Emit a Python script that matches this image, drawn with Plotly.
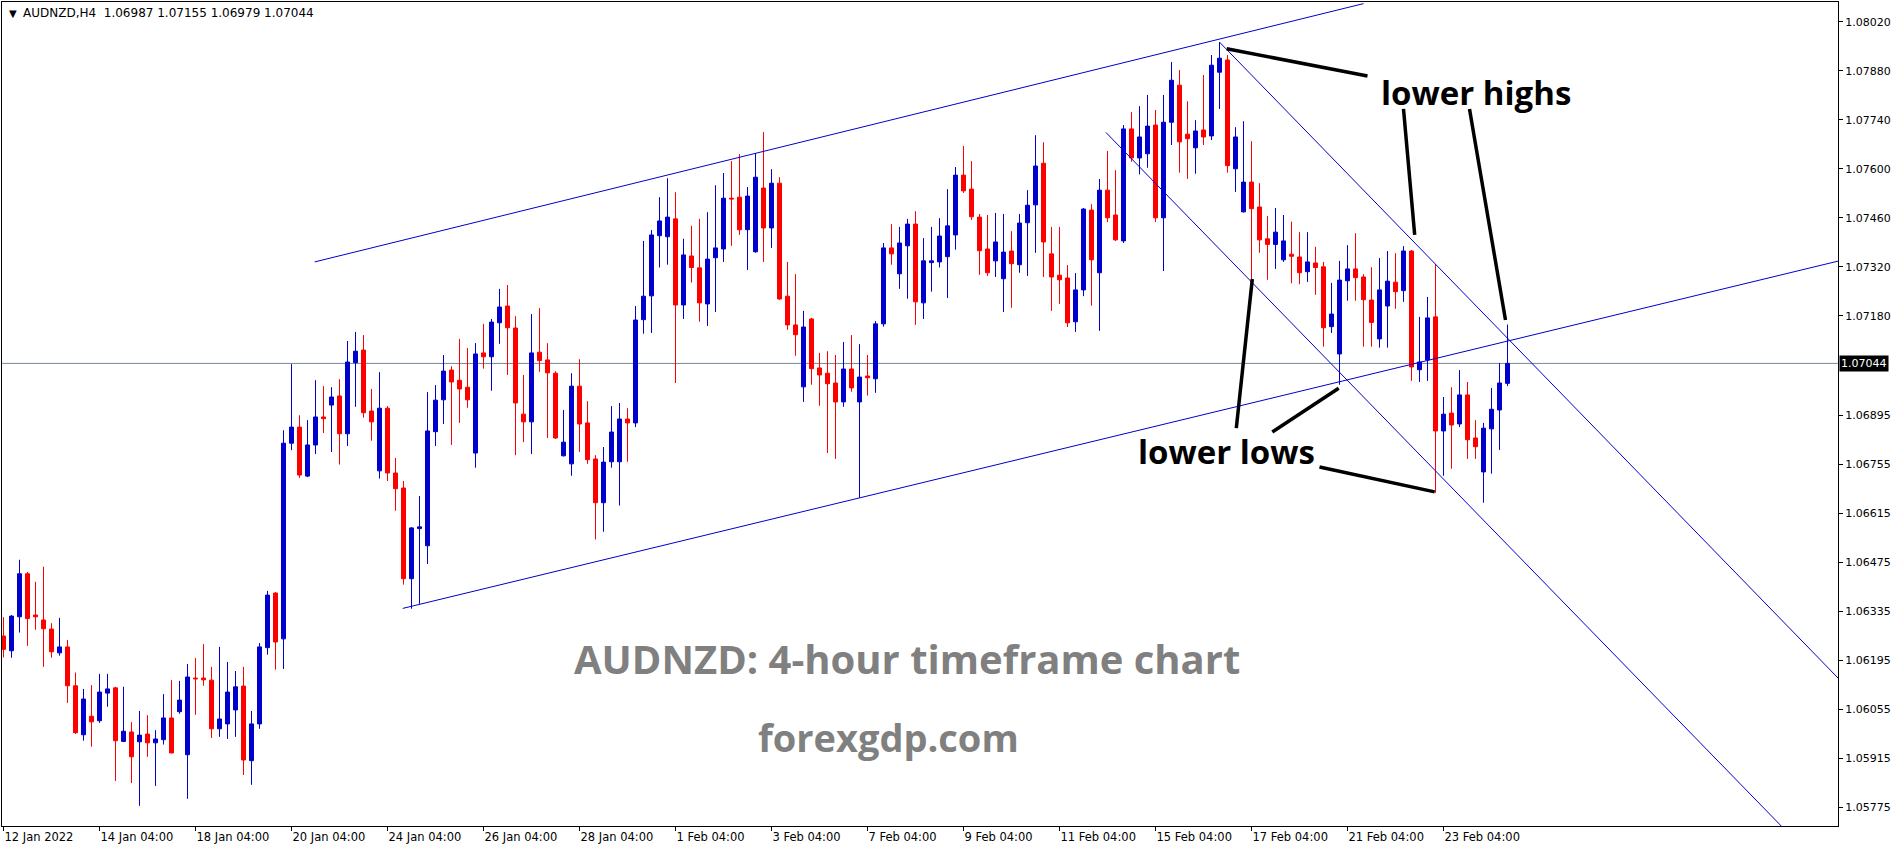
import plotly.graph_objects as go

# ---------------- data (AUDNZD H4, bar index = position) ----------------
opens = [1.06265,1.06223,1.06320,1.06443,1.06325,1.06311,1.06285,1.06217,1.06234,1.06123,
1.05983,1.06036,1.06023,1.06102,1.06117,1.05964,1.05991,1.05963,1.05985,1.05960,
1.05969,1.06031,1.06049,1.05926,1.06145,1.06145,1.06139,1.06000,1.06014,1.06054,
1.06122,1.05909,1.06014,1.06232,1.06388,1.06257,1.06816,1.06862,1.06722,1.06811,
1.06891,1.06925,1.06951,1.06843,1.07046,1.07082,1.06908,1.06737,1.06916,1.06731,
1.06688,1.06429,1.06572,1.06523,1.06849,1.06940,1.07025,1.06996,1.06976,1.06788,
1.07074,1.07063,1.07160,1.07208,1.07145,1.06899,1.06877,1.07076,1.07054,1.07016,
1.06780,1.06757,1.06979,1.06874,1.06771,1.06646,1.06763,1.06763,1.06885,1.06874,
1.07169,1.07237,1.07409,1.07406,1.07457,1.07211,1.07351,1.07317,1.07214,1.07346,
1.07371,1.07516,1.07519,1.07426,1.07363,1.07545,1.07431,1.07559,1.07236,1.07154,
1.06977,1.07171,1.07031,1.07016,1.06988,1.06934,1.07028,1.06934,1.07008,1.07000,
1.07157,1.07374,1.07300,1.07380,1.07442,1.07217,1.07332,1.07334,1.07349,1.07411,
1.07582,1.07542,1.07462,1.07371,1.07337,1.07286,1.07365,1.07326,1.07446,1.07497,
1.07616,1.07357,1.07296,1.07288,1.07163,1.07254,1.07482,1.07303,1.07539,1.07468,
1.07394,1.07714,1.07631,1.07643,1.07725,1.07460,1.07733,1.07839,1.07699,1.07660,
1.07711,1.07694,1.07876,1.07911,1.07600,1.07477,1.07562,1.07491,1.07400,1.07384,
1.07340,1.07356,1.07348,1.07306,1.07331,1.07320,1.07149,1.07071,1.07280,1.07314,
1.07291,1.07225,1.07114,1.07208,1.07276,1.07252,1.07365,1.07026,1.07054,1.07177,
1.06851,1.06902,1.06871,1.06954,1.06831,1.06734,1.06857,1.06911,1.06987]

highs = [1.06319,1.06325,1.06483,1.06448,1.06420,1.06463,1.06302,1.06317,1.06254,1.06161,
1.06114,1.06125,1.06157,1.06157,1.06120,1.06120,1.06019,1.06051,1.06039,1.05996,
1.06099,1.06139,1.06137,1.06185,1.06202,1.06242,1.06177,1.06234,1.06191,1.06165,
1.06177,1.06051,1.06245,1.06394,1.06390,1.06853,1.07042,1.06896,1.06882,1.06996,
1.06979,1.06976,1.06999,1.07108,1.07134,1.07125,1.06971,1.07019,1.06922,1.06774,
1.06708,1.06576,1.06665,1.06962,1.06982,1.07068,1.07036,1.07114,1.07088,1.07102,
1.07157,1.07171,1.07257,1.07268,1.07179,1.07011,1.07185,1.07202,1.07102,1.07022,
1.06911,1.07016,1.07056,1.06936,1.06782,1.06805,1.06922,1.06931,1.06916,1.07208,
1.07394,1.07425,1.07519,1.07573,1.07533,1.07400,1.07437,1.07457,1.07476,1.07553,
1.07588,1.07622,1.07642,1.07548,1.07645,1.07705,1.07599,1.07576,1.07334,1.07299,
1.07194,1.07174,1.07074,1.07079,1.07068,1.07105,1.07125,1.07099,1.07068,1.07165,
1.07388,1.07442,1.07434,1.07457,1.07479,1.07402,1.07434,1.07459,1.07542,1.07605,
1.07665,1.07622,1.07471,1.07468,1.07474,1.07471,1.07422,1.07471,1.07539,1.07696,
1.07676,1.07434,1.07434,1.07325,1.07302,1.07488,1.07499,1.07571,1.07651,1.07596,
1.07725,1.07762,1.07779,1.07811,1.07768,1.07811,1.07905,1.07882,1.07793,1.07739,
1.07868,1.07925,1.07962,1.07925,1.07719,1.07736,1.07679,1.07559,1.07465,1.07488,
1.07468,1.07449,1.07419,1.07419,1.07377,1.07334,1.07274,1.07337,1.07382,1.07416,
1.07299,1.07319,1.07345,1.07365,1.07359,1.07379,1.07368,1.07177,1.07234,1.07328,
1.06948,1.06976,1.07025,1.06991,1.06882,1.06874,1.06974,1.07045,1.07155]

lows = [1.06204,1.06203,1.06275,1.06237,1.06283,1.06177,1.06203,1.06209,1.06074,1.05985,
1.05966,1.05949,1.06017,1.06063,1.05851,1.05962,1.05845,1.05780,1.05920,1.05837,
1.05955,1.05930,1.06043,1.05800,1.06040,1.06123,1.05974,1.05977,1.05971,1.05977,
1.05868,1.05840,1.06000,1.06212,1.06169,1.06171,1.06796,1.06717,1.06719,1.06785,
1.06845,1.06791,1.06755,1.06808,1.06920,1.06889,1.06823,1.06715,1.06708,1.06623,
1.06412,1.06343,1.06357,1.06471,1.06808,1.06871,1.06811,1.06874,1.06917,1.06746,
1.07029,1.06966,1.07100,1.07011,1.06782,1.06819,1.06785,1.07020,1.06831,1.06828,
1.06778,1.06723,1.06791,1.06757,1.06541,1.06563,1.06746,1.06638,1.06763,1.06862,
1.07129,1.07131,1.07318,1.07326,1.06988,1.07171,1.07275,1.07163,1.07151,1.07191,
1.07334,1.07380,1.07411,1.07311,1.07360,1.07334,1.07374,1.07226,1.07140,1.07066,
1.06934,1.06983,1.06923,1.06788,1.06771,1.06920,1.06963,1.06660,1.06952,1.06960,
1.07149,1.07326,1.07257,1.07229,1.07154,1.07171,1.07249,1.07318,1.07231,1.07369,
1.07531,1.07454,1.07297,1.07294,1.07291,1.07191,1.07203,1.07303,1.07294,1.07360,
1.07291,1.07194,1.07214,1.07148,1.07134,1.07236,1.07209,1.07137,1.07448,1.07394,
1.07388,1.07620,1.07584,1.07603,1.07448,1.07308,1.07668,1.07589,1.07571,1.07586,
1.07668,1.07682,1.07771,1.07589,1.07534,1.07475,1.07271,1.07360,1.07283,1.07314,
1.07334,1.07273,1.07270,1.07277,1.07240,1.07092,1.07131,1.06983,1.07223,1.07223,
1.07092,1.07092,1.07089,1.07089,1.07200,1.07220,1.06994,1.06991,1.06994,1.06674,
1.06723,1.06743,1.06862,1.06771,1.06771,1.06646,1.06729,1.06797,1.06979]

closes = [1.06227,1.06322,1.06443,1.06315,1.06320,1.06286,1.06220,1.06234,1.06123,1.05989,
1.06085,1.06020,1.06105,1.06114,1.05966,1.05993,1.05920,1.05982,1.05960,1.05971,
1.06031,1.05931,1.06082,1.06148,1.06143,1.06140,1.06000,1.06028,1.06105,1.06120,
1.05911,1.06014,1.06234,1.06382,1.06248,1.06816,1.06862,1.06725,1.06811,1.06891,
1.06886,1.06948,1.06843,1.07048,1.07079,1.06903,1.06877,1.06916,1.06731,1.06686,
1.06429,1.06574,1.06577,1.06851,1.06939,1.07022,1.06991,1.06971,1.06940,1.07071,
1.07063,1.07162,1.07205,1.07146,1.06931,1.06877,1.07074,1.07052,1.07017,1.06831,
1.06819,1.06979,1.06871,1.06769,1.06646,1.06762,1.06848,1.06885,1.06874,1.07168,
1.07236,1.07411,1.07451,1.07462,1.07211,1.07354,1.07318,1.07217,1.07342,1.07374,
1.07516,1.07514,1.07426,1.07522,1.07576,1.07431,1.07559,1.07228,1.07154,1.07126,
1.07148,1.07029,1.07011,1.06986,1.06934,1.07028,1.06974,1.07005,1.07003,1.07157,
1.07374,1.07357,1.07388,1.07442,1.07220,1.07337,1.07337,1.07408,1.07437,1.07582,
1.07537,1.07463,1.07366,1.07303,1.07391,1.07362,1.07329,1.07445,1.07496,1.07608,
1.07391,1.07291,1.07283,1.07160,1.07254,1.07485,1.07340,1.07539,1.07460,1.07397,
1.07714,1.07631,1.07691,1.07722,1.07460,1.07733,1.07853,1.07677,1.07686,1.07708,
1.07691,1.07896,1.07916,1.07609,1.07691,1.07562,1.07486,1.07397,1.07384,1.07419,
1.07394,1.07350,1.07303,1.07334,1.07318,1.07146,1.07185,1.07282,1.07314,1.07289,
1.07226,1.07161,1.07254,1.07279,1.07249,1.07365,1.07034,1.07048,1.07174,1.06851,
1.06899,1.06868,1.06954,1.06826,1.06806,1.06859,1.06913,1.06988,1.07044]

bars = list(range(len(opens)))

# time axis: one label every 12 H4 bars
tick_bars = list(range(0, 181, 12))
tick_labels = ["12 Jan 2022", "14 Jan 04:00", "18 Jan 04:00", "20 Jan 04:00", "24 Jan 04:00",
               "26 Jan 04:00", "28 Jan 04:00", "1 Feb 04:00", "3 Feb 04:00", "7 Feb 04:00",
               "9 Feb 04:00", "11 Feb 04:00", "15 Feb 04:00", "17 Feb 04:00", "21 Feb 04:00",
               "23 Feb 04:00"]

price_ticks = [1.08020, 1.07880, 1.07740, 1.07600, 1.07460, 1.07320, 1.07180, 1.06895,
               1.06755, 1.06615, 1.06475, 1.06335, 1.06195, 1.06055, 1.05915, 1.05775]

last_price = 1.07044
header_text = "AUDNZD,H4  1.06987 1.07155 1.06979 1.07044"

# trendlines: (bar, price) -> (bar, price)
channel_lines = [
    ((38.9, 1.07334), (170.0, 1.08072)),   # rising channel top
    ((49.9, 1.06344), (230.0, 1.07340)),   # rising channel bottom
    ((152.0, 1.07962), (230.0, 1.06129)),  # falling channel top
    ((137.8, 1.07704), (225.0, 1.05657)),  # falling channel bottom
]
pointer_lines = [
    ((152.9, 1.07943), (170.5, 1.07865)),
    ((175.0, 1.07771), (176.4, 1.07411)),
    ((183.25, 1.07771), (187.75, 1.07168)),
    ((154.1, 1.06859), (156.1, 1.07285)),
    ((158.6, 1.06848), (166.9, 1.06973)),
    ((164.5, 1.06748), (178.9, 1.06677)),
]
labels = [
    ("lower highs", 184.1, 1.07819, "black", 33),
    ("lower lows", 152.9, 1.06793, "black", 33),
    ("AUDNZD: 4-hour timeframe chart", 112.9, 1.06202, "#808080", 40),
    ("forexgdp.com", 110.6, 1.05976, "#808080", 38),
]

BLUE = "#0000CD"
RED = "#FF0000"

fig = go.Figure()
fig.add_trace(go.Candlestick(
    x=bars, open=opens, high=highs, low=lows, close=closes,
    increasing=dict(line=dict(color=BLUE, width=1), fillcolor=BLUE),
    decreasing=dict(line=dict(color=RED, width=1), fillcolor=RED),
    whiskerwidth=0, hoverinfo="skip",
))

for (x0, y0), (x1, y1) in channel_lines:
    fig.add_trace(go.Scatter(x=[x0, x1], y=[y0, y1], mode="lines",
                             line=dict(color=BLUE, width=1), hoverinfo="skip"))
for (x0, y0), (x1, y1) in pointer_lines:
    fig.add_trace(go.Scatter(x=[x0, x1], y=[y0, y1], mode="lines",
                             line=dict(color="black", width=3.5), hoverinfo="skip"))

# current price line
fig.add_shape(type="line", xref="paper", x0=0, x1=1, yref="y", y0=last_price, y1=last_price,
              line=dict(color="#778899", width=1), layer="below")

for txt, bx, py, col, sz in labels:
    fig.add_annotation(x=bx, y=py, xref="x", yref="y", text="<b>%s</b>" % txt,
                       showarrow=False, font=dict(family="Open Sans", size=sz, color=col),
                       xanchor="center", yanchor="middle")

fig.add_annotation(xref="paper", yref="y", x=1, y=last_price, text="%.5f" % last_price,
                   showarrow=False, xanchor="left", yanchor="middle", xshift=1,
                   bgcolor="black", font=dict(family="DejaVu Sans", size=11, color="white"),
                   borderpad=1)

fig.add_annotation(xref="paper", yref="paper", x=0, y=1, text="\u25BC", showarrow=False,
                   xanchor="left", yanchor="top", xshift=5, yshift=-4,
                   font=dict(family="DejaVu Sans", size=10, color="black"))
fig.add_annotation(xref="paper", yref="paper", x=0, y=1, text=header_text, showarrow=False,
                   xanchor="left", yanchor="top", xshift=19, yshift=-2,
                   font=dict(family="DejaVu Sans", size=12, color="black"))

fig.update_layout(
    width=1902, height=850,
    margin=dict(l=2, r=64, t=2, b=24),
    paper_bgcolor="white", plot_bgcolor="white",
    showlegend=False, hovermode=False,
    boxgap=0.5, boxgroupgap=0,
    font=dict(family="DejaVu Sans", size=11, color="black"),
    xaxis=dict(range=[-0.1875, 229.3125], showgrid=False, zeroline=False,
               showline=True, mirror=True, linecolor="black", linewidth=1,
               ticks="outside", ticklen=4, tickcolor="black",
               tickvals=tick_bars, ticktext=tick_labels,
               tickfont=dict(size=11.5),
               ticklabelposition="outside right",
               rangeslider=dict(visible=False), fixedrange=True),
    yaxis=dict(range=[1.057223, 1.080766], side="right", showgrid=False, zeroline=False,
               showline=True, mirror=True, linecolor="black", linewidth=1,
               ticks="outside", ticklen=4, tickcolor="black",
               tickvals=price_ticks, ticktext=["%.5f" % v for v in price_ticks],
               fixedrange=True),
)

fig.write_html("out.html", config={"displayModeBar": False},
               post_script="document.body.style.margin='0';document.body.style.overflow='hidden';")
